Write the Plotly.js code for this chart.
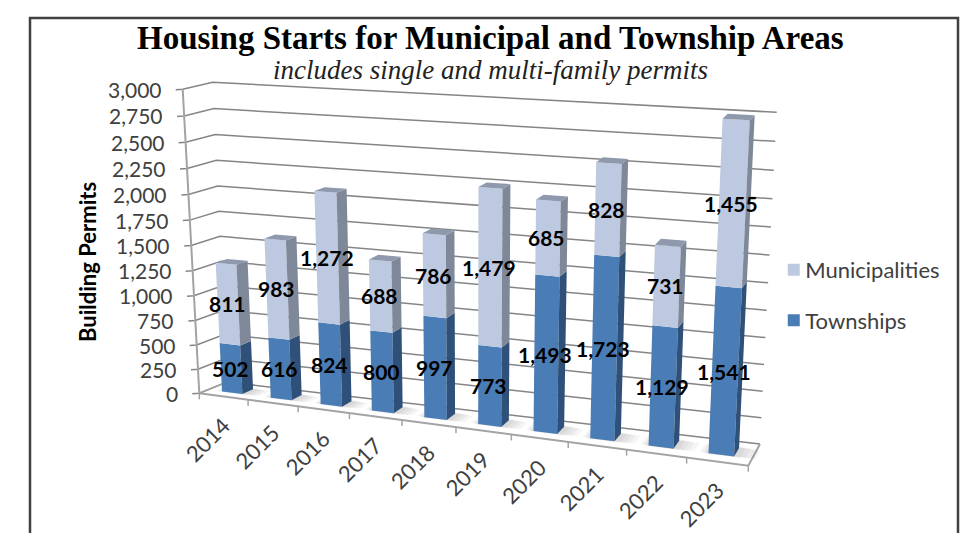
<!DOCTYPE html>
<html><head><meta charset="utf-8">
<script src="https://cdn.plot.ly/plotly-3.0.1.min.js"></script>
<style>html,body{margin:0;padding:0;background:#fff}
.legend .legendsymbols{transform:translateX(8.5px)}</style></head>
<body><div id="chart" style="width:973px;height:533px"></div>
<script>
const years = ['2014','2015','2016','2017','2018','2019','2020','2021','2022','2023'];
const townships = [502,616,824,800,997,773,1493,1723,1129,1541];
const municipalities = [811,983,1272,688,786,1479,685,828,731,1455];
const valueTicks = [0,250,500,750,1000,1250,1500,1750,2000,2250,2500,2750,3000];

const C = {
  FLB:[199.3,393.3], FLT:[182.7,89.3], BLB:[227,382], BLT:[212.7,82.3],
  FRB:[748.3,465.7], FRT:[765,125], BRB:[760,444], BRT:[776.7,112.3]
};
const MAXV = 3000, N = years.length;
const D0 = 0.32, D1 = 0.72, BARW = 0.42;
function lerp(a,b,t){return [a[0]+(b[0]-a[0])*t, a[1]+(b[1]-a[1])*t];}
function P(u,v,d){
  const q=u/N, t=0.878*q/(1-0.122*q);
  let h=v/MAXV; h=h-0.056*h*(1-h);
  const fb=lerp(C.FLB,C.FRB,t), ft=lerp(C.FLT,C.FRT,t), bb=lerp(C.BLB,C.BRB,t), bt=lerp(C.BLT,C.BRT,t);
  return lerp(lerp(fb,ft,h),lerp(bb,bt,h),d);
}
const traces=[];
function poly(pts,fill){
  const c=pts.concat([pts[0]]);
  traces.push({type:'scatter',mode:'lines',x:c.map(p=>p[0]),y:c.map(p=>p[1]),fill:'toself',fillcolor:fill,
    line:{width:0,color:fill},hoverinfo:'skip',showlegend:false});
}
function line(pts,color,w){
  traces.push({type:'scatter',mode:'lines',x:pts.map(p=>p[0]),y:pts.map(p=>p[1]),
    line:{color:color,width:w},hoverinfo:'skip',showlegend:false});
}
const GRID='#858585', AXIS='#a3a3a3';
// walls
valueTicks.forEach(v=>{
  const f=P(0,v,0);
  line([[f[0]-7,f[1]+0.5],f,P(0,v,1),P(N,v,1)], GRID, 1.5);
});
// floor edges and ticks
line([P(0,0,0),P(0,0,1)],AXIS,1.5);
line([P(N,0,1),P(N,0,0),P(0,0,0)],AXIS,2);
for(let i=0;i<=N;i++){const p=P(i,0,0);line([p,[p[0],p[1]+6]],AXIS,1.5);}
line([P(0,0,0),P(0,MAXV,0)],AXIS,2);
// floor shadows
years.forEach((y,i)=>{
  const a=i+0.5-BARW/2,b=i+0.5+BARW/2;
  [[.34,.14,.0],[.26,.10,.02],[.18,.06,.04],[.1,.03,.06]].forEach(s=>{
    poly([P(a-s[1],0,D0-s[2]+.02),P(b+s[0],0,D0-s[2]+.02),P(b+s[0],0,D1+s[2]),P(a-s[1],0,D1+s[2])],'rgba(90,90,90,0.06)');
  });
});
// bars
function box(u0,u1,v0,v1,front,side,top){
  poly([P(u0,v0,D0),P(u1,v0,D0),P(u1,v1,D0),P(u0,v1,D0)],front);
  poly([P(u1,v0,D0),P(u1,v0,D1),P(u1,v1,D1),P(u1,v1,D0)],side);
  if(top) poly([P(u0,v1,D0),P(u1,v1,D0),P(u1,v1,D1),P(u0,v1,D1)],top);
}
years.forEach((y,i)=>{
  const a=i+0.5-BARW/2,b=i+0.5+BARW/2,t=townships[i],m=municipalities[i];
  box(a,b,0,t,'#4a7cb5','#2f5078',null);
  box(a,b,t,t+m,'#bdc9e0','#7f8899','#8e99ae');
});
// legend entries
[['Municipalities','#bdc9e0'],['Townships','#4a7cb5']].forEach((e,i)=>{
  traces.push({type:'scatter',mode:'markers',x:[-50],y:[-50],name:e[0],legendgroup:e[0],
    marker:{symbol:'square',size:12,color:e[1]},hoverinfo:'skip'});
});
// text
const ann=[];
function text(x,y,t,o){ann.push(Object.assign({x:x,y:y,xref:'x',yref:'y',text:t,showarrow:false},o));}
const fmt=v=>v.toLocaleString('en-US');
const tickFont={family:'Lato, sans-serif',size:21,color:'#404040'};
valueTicks.forEach(v=>{
  const f=P(0,v,0);
  text(f[0]-19,f[1],fmt(v),{xanchor:'right',yanchor:'middle',font:tickFont});
});
const xFont={family:'Lato, sans-serif',size:22,color:'#404040'};
years.forEach((y,i)=>{
  const p=P(i+0.5,0,0);
  text(p[0]-16,p[1]+43,y,{textangle:-45,font:xFont});
});
const labelFont={family:'Lato, sans-serif',size:21,color:'#000'};
years.forEach((y,i)=>{
  const t=townships[i],m=municipalities[i];
  const p1=P(i+0.5,t/2,D0+0.05), p2=P(i+0.5,t+m/2,D0+0.05);
  text(p1[0]-2,p1[1],'<b>'+fmt(t)+'</b>',{font:labelFont});
  text(p2[0]-2,p2[1],'<b>'+fmt(m)+'</b>',{font:labelFont});
});
text(87,262,'<b>Building Permits</b>',{textangle:-90,font:{family:'Lato, sans-serif',size:22,color:'#000'}});
text(490.5,38,'<b>Housing Starts for Municipal and Township Areas</b>',{font:{family:'Liberation Serif, serif',size:33,color:'#000'}});
text(490.5,70,'<i>includes single and multi-family permits</i>',{font:{family:'Liberation Serif, serif',size:27,color:'#222'}});

const layout={
  width:973,height:533,margin:{l:0,r:0,t:0,b:0},paper_bgcolor:'#fff',plot_bgcolor:'#fff',
  xaxis:{range:[0,973],visible:false,fixedrange:true},
  yaxis:{range:[533,0],visible:false,fixedrange:true},
  annotations:ann,
  legend:{x:0.7865,y:0.533,xanchor:'left',yanchor:'top',tracegroupgap:19,itemwidth:30,
    font:{family:'Lato, sans-serif',size:22,color:'#404040'},bgcolor:'rgba(0,0,0,0)'},
  shapes:[{type:'path',xref:'x',yref:'y',path:'M30,533 L30,18 L958,18 L958,533',line:{color:'#404040',width:2.5}}]
};
Plotly.newPlot('chart',traces,layout,{displayModeBar:false,staticPlot:true});
</script></body></html>
